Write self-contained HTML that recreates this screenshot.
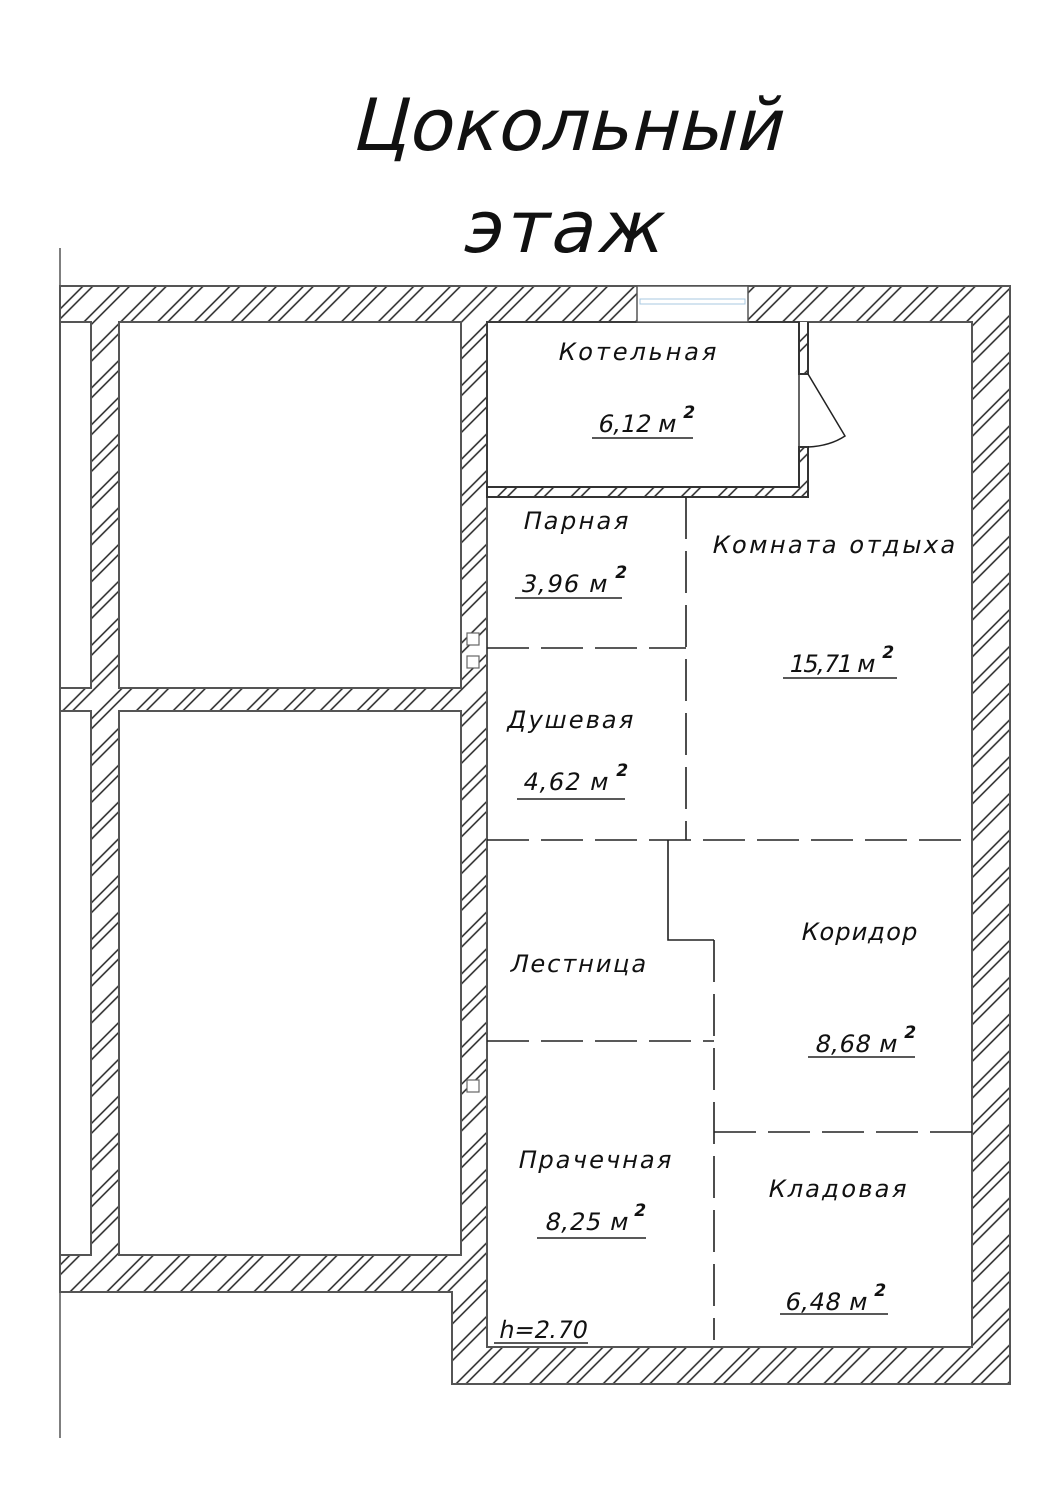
<!DOCTYPE html>
<html><head><meta charset="utf-8"><style>
html,body{margin:0;padding:0;background:#fff;}
svg{display:block;}
text{font-family:"DejaVu Sans","Liberation Sans",sans-serif;fill:#111;}
</style></head><body>
<svg width="1059" height="1500" viewBox="0 0 1059 1500" xmlns="http://www.w3.org/2000/svg">
<defs>
<pattern id="h" patternUnits="userSpaceOnUse" width="26" height="10" patternTransform="rotate(45)">
<rect width="26" height="10" fill="#fff"/>
<line x1="1" y1="0" x2="1" y2="10" stroke="#222" stroke-width="1.5"/>
<line x1="8" y1="0" x2="8" y2="10" stroke="#222" stroke-width="1.5"/>
</pattern>
</defs>
<rect width="1059" height="1500" fill="#fff"/>
<g transform="translate(350 150) skewX(-14)"><text x="0" y="0" font-size="72" font-weight="normal" textLength="430" lengthAdjust="spacing">Цокольный</text></g>
<g transform="translate(460 252) skewX(-14)"><text x="0" y="0" font-size="72" textLength="200" lengthAdjust="spacing">этаж</text></g>

<line x1="60" y1="248" x2="60" y2="1438" stroke="#555" stroke-width="1.5"/>

<path d="M60 286 H1010 V1384 H452 V1292 H60 Z" fill="url(#h)" stroke="#555" stroke-width="2"/>
<g fill="#fff" stroke="#555" stroke-width="2">
<rect x="60" y="322" width="31" height="366"/>
<rect x="60" y="711" width="31" height="544"/>
<rect x="119" y="322" width="342" height="366"/>
<rect x="119" y="711" width="342" height="544"/>
<rect x="487" y="322" width="485" height="1025"/>
</g>
<path d="M487 487 H799 V447 H808 V497 H487 Z" fill="url(#h)" stroke="#333" stroke-width="2"/>
<path d="M799 322 V374 H808 V322" fill="url(#h)" stroke="#333" stroke-width="2"/>
<rect x="487" y="322" width="312" height="165" fill="none" stroke="#333" stroke-width="1.5"/>
<path d="M808 374 L845 436 Q830 446 808 447" fill="none" stroke="#222" stroke-width="1.5"/>
<rect x="637" y="286" width="111" height="36" fill="#fff" stroke="#555" stroke-width="1.5"/>
<rect x="640" y="299" width="105" height="5" fill="none" stroke="#a8c8e0" stroke-width="1"/>

<g fill="#fff" stroke="#666" stroke-width="1.2">
<rect x="467" y="633" width="12" height="12"/>
<rect x="467" y="656" width="12" height="12"/>
<rect x="467" y="1080" width="12" height="12"/>
</g>

<g stroke="#222" stroke-width="1.6" fill="none">
<line x1="686" y1="497" x2="686" y2="840" stroke-dasharray="42,12"/>
<line x1="487" y1="648" x2="686" y2="648" stroke-dasharray="42,12"/>
<line x1="487" y1="840" x2="972" y2="840" stroke-dasharray="42,12"/>
<polyline points="668,840 668,940 714,940"/>
<line x1="714" y1="940" x2="714" y2="1340" stroke-dasharray="42,12"/>
<line x1="487" y1="1041" x2="714" y2="1041" stroke-dasharray="42,12"/>
<line x1="714" y1="1132" x2="972" y2="1132" stroke-dasharray="42,12"/>
</g>

<g font-size="24">
<g transform="translate(557 360) skewX(-12)"><text textLength="158" lengthAdjust="spacing">Котельная</text></g>
<g transform="translate(597 432) skewX(-12)"><text textLength="78" lengthAdjust="spacing">6,12 м</text><text x="82" y="-14" font-size="17" font-weight="bold">2</text></g>
<g transform="translate(522 529) skewX(-12)"><text textLength="105" lengthAdjust="spacing">Парная</text></g>
<g transform="translate(520 592) skewX(-12)"><text textLength="86" lengthAdjust="spacing">3,96 м</text><text x="91" y="-14" font-size="17" font-weight="bold">2</text></g>
<g transform="translate(711 553) skewX(-12)"><text textLength="243" lengthAdjust="spacing">Комната отдыха</text></g>
<g transform="translate(788 672) skewX(-12)"><text textLength="86" lengthAdjust="spacing">15,71 м</text><text x="90" y="-14" font-size="17" font-weight="bold">2</text></g>
<g transform="translate(506 728) skewX(-12)"><text textLength="126" lengthAdjust="spacing">Душевая</text></g>
<g transform="translate(522 790) skewX(-12)"><text textLength="85" lengthAdjust="spacing">4,62 м</text><text x="90" y="-14" font-size="17" font-weight="bold">2</text></g>
<g transform="translate(509 972) skewX(-12)"><text textLength="136" lengthAdjust="spacing">Лестница</text></g>
<g transform="translate(800 940) skewX(-12)"><text textLength="116" lengthAdjust="spacing">Коридор</text></g>
<g transform="translate(814 1052) skewX(-12)"><text textLength="82" lengthAdjust="spacing">8,68 м</text><text x="86" y="-14" font-size="17" font-weight="bold">2</text></g>
<g transform="translate(517 1168) skewX(-12)"><text textLength="153" lengthAdjust="spacing">Прачечная</text></g>
<g transform="translate(544 1230) skewX(-12)"><text textLength="83" lengthAdjust="spacing">8,25 м</text><text x="86" y="-14" font-size="17" font-weight="bold">2</text></g>
<g transform="translate(767 1197) skewX(-12)"><text textLength="138" lengthAdjust="spacing">Кладовая</text></g>
<g transform="translate(784 1310) skewX(-12)"><text textLength="82" lengthAdjust="spacing">6,48 м</text><text x="86" y="-14" font-size="17" font-weight="bold">2</text></g>
<g transform="translate(498 1338) skewX(-12)"><text textLength="88" lengthAdjust="spacingAndGlyphs">h=2.70</text></g>
</g>
<g stroke="#222" stroke-width="1.6">
<line x1="592" y1="438" x2="693" y2="438"/>
<line x1="515" y1="598" x2="622" y2="598"/>
<line x1="783" y1="678" x2="897" y2="678"/>
<line x1="517" y1="799" x2="625" y2="799"/>
<line x1="808" y1="1057" x2="915" y2="1057"/>
<line x1="537" y1="1238" x2="646" y2="1238"/>
<line x1="780" y1="1314" x2="888" y2="1314"/>
<line x1="494" y1="1343" x2="588" y2="1343"/>
</g>
</svg>
</body></html>
